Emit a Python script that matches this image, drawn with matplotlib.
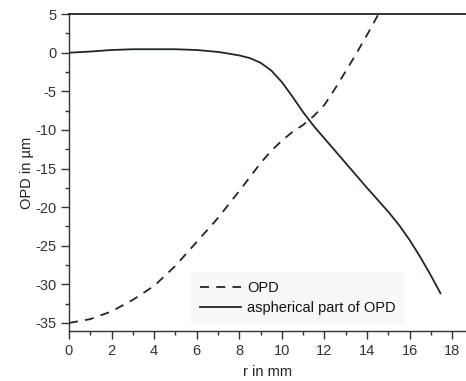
import matplotlib
matplotlib.use("Agg")
import matplotlib.pyplot as plt
from matplotlib.ticker import MultipleLocator

plt.rcParams['font.family'] = ['Liberation Sans', 'DejaVu Sans']
plt.rcParams['axes.unicode_minus'] = False

# OPD (dashed)
r_opd = [0, 1, 2, 3, 4, 5, 6, 7, 8, 9, 9.5, 10, 10.5, 11, 11.5, 12, 12.5, 13, 13.5, 14, 14.55]
opd = [-35.0, -34.5, -33.5, -32.0, -30.2, -27.6, -24.5, -21.4, -17.9, -14.3, -12.7,
       -11.4, -10.25, -9.35, -8.2, -6.75, -4.65, -2.4, -0.1, 2.3, 5.05]

# aspherical part of OPD (solid)
r_asph = [0, 1, 2, 3, 4, 5, 6, 7, 7.5, 8, 8.5, 9, 9.5, 10, 10.5, 11, 11.5, 12,
          12.5, 13, 13.5, 14, 14.5, 15, 15.5, 16, 16.5, 17, 17.45]
asph = [0.0, 0.15, 0.35, 0.45, 0.45, 0.45, 0.35, 0.1, -0.12, -0.35, -0.7, -1.3, -2.3,
        -3.8, -5.7, -7.7, -9.5, -11.1, -12.7, -14.3, -15.9, -17.5, -19.05, -20.6,
        -22.3, -24.25, -26.45, -28.85, -31.15]

x_ticks = [0, 2, 4, 6, 8, 10, 12, 14, 16, 18]
y_ticks = [5, 0, -5, -10, -15, -20, -25, -30, -35]

fig = plt.figure(figsize=(4.66, 3.81), dpi=100)
ax = fig.add_axes([0.148, 0.131, 0.852, 0.832])

line_col = '#1c2828'
ax.plot(r_opd, opd, color=line_col, lw=1.3, linestyle=(0, (5, 4)), label='OPD')
ax.plot(r_asph, asph, color=line_col, lw=1.3, label='aspherical part of OPD')

ax.set_xlim(0, 18.65)
ax.set_ylim(-36.05, 5)
ax.set_xticks(x_ticks)
ax.set_yticks(y_ticks)
ax.xaxis.set_minor_locator(MultipleLocator(1))
ax.yaxis.set_minor_locator(MultipleLocator(2.5))

for s in ['left', 'bottom', 'top']:
    ax.spines[s].set_color('#333333')
    ax.spines[s].set_linewidth(1.0)
ax.spines['top'].set_color('#111111')
ax.spines['top'].set_linewidth(1.2)
ax.spines['right'].set_visible(False)

ax.tick_params(axis='both', which='major', direction='out', length=6, width=1,
               color='#333333', labelsize=10.5, labelcolor='#333333', pad=3)
ax.tick_params(axis='both', which='minor', direction='out', length=3, width=1,
               color='#333333')
ax.tick_params(top=False, right=False, which='both')

ax.set_xlabel('r in mm', fontsize=10.5, color='#222222', labelpad=5)
ax.set_ylabel('OPD in µm', fontsize=10.5, color='#222222', labelpad=1)

leg = ax.legend(loc='lower left', bbox_to_anchor=(0.29, 0.0), frameon=True,
                fontsize=10.5, handlelength=2.8, handletextpad=0.4,
                labelspacing=0.4, borderpad=0.6)
leg.get_frame().set_facecolor('#f8f8f8')
leg.get_frame().set_edgecolor('none')
leg.get_frame().set_alpha(1)
leg.get_frame().set_boxstyle('square', pad=0)
for t in leg.get_texts():
    t.set_color('#111111')

fig.savefig('out.png', dpi=100)
